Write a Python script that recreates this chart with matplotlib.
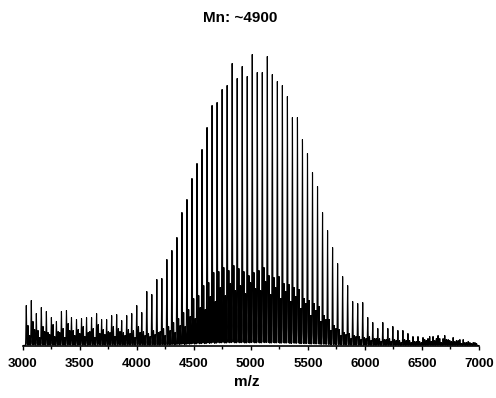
"""MALDI spectrum of a PEG sample, Mn ~4900."""
import matplotlib
matplotlib.use("Agg")
import matplotlib.pyplot as plt
import numpy as np

plt.rcParams["font.family"] = ["Liberation Sans", "DejaVu Sans"]

# repeat unit and first peak of the main (Na+) series, in m/z
REPEAT = 44.0
MAIN_FIRST = 3033.0
OFFSET_B = 15.0   # second distribution, between main peaks
OFFSET_C = 29.0   # third distribution

# peak heights, arbitrary units (one per repeat unit)
main_heights = [40, 45, 32, 38, 34, 28, 24, 34, 35, 28, 26, 27, 28, 28, 32, 26,
                26, 30, 31, 25, 30, 32, 40, 33, 54, 51, 66, 67, 86, 95, 108,
                133, 146, 167, 182, 196, 218, 240, 243, 256, 260, 282, 267, 279,
                269, 291, 273, 273, 289, 271, 264, 260, 249, 228, 228, 206, 192,
                173, 159, 133, 115, 98, 82, 69, 60, 44, 42, 43, 28, 23, 17, 23,
                17, 19, 15, 15, 12, 9, 9,
                8, 7, 9, 10, 7, 6, 8, 5, 6, 4, 3]
b_heights = [20, 24, 15, 19, 13, 21, 14, 17, 22, 15, 16, 19, 13, 17, 21, 16,
             14, 19, 17, 13, 16, 15, 19, 14, 12, 15, 13, 17, 19, 23, 27,
             33, 36, 47, 50, 60, 63, 73, 74, 78, 75, 80, 77, 74, 70, 73, 75,
             78, 70, 68, 69, 62, 61, 58, 56, 47, 45, 42, 39, 30, 26, 20, 16,
             13, 12, 10, 9, 8, 9, 7, 7, 6, 7, 6, 5, 6, 5, 4, 4,
             6, 9, 5, 7, 10, 5, 4, 6, 3, 3, 3]
c_heights = [10, 16, 8, 14, 11, 9, 13, 8, 15, 10, 12, 9, 14, 8, 12, 11,
             13, 9, 14, 10, 12, 8, 13, 10, 9, 11, 14, 10, 15, 13, 20,
             19, 29, 27, 38, 36, 49, 44, 58, 50, 62, 55, 60, 52, 63, 57, 55,
             64, 51, 58, 47, 54, 44, 49, 37, 42, 30, 35, 24, 26, 15, 17, 10,
             11, 7, 9, 6, 7, 5, 7, 4, 6, 4, 5, 3, 5, 3, 4, 3,
             5, 4, 7, 3, 6, 4, 5, 2, 3, 2, 2]
BASELINE = 0.5
PEAK_SIGMA = 2.5  # peak width in m/z units

peak_mz = MAIN_FIRST + REPEAT * np.arange(len(main_heights))

mz = np.arange(3000, 7000.25, 0.25)
signal = np.full_like(mz, BASELINE)
for offset, heights in ((0.0, main_heights), (OFFSET_B, b_heights), (OFFSET_C, c_heights)):
    for m, h in zip(peak_mz + offset, heights):
        signal += h * np.exp(-0.5 * ((mz - m) / PEAK_SIGMA) ** 2)

fig = plt.figure(figsize=(4.96, 3.98), dpi=100)
ax = fig.add_axes([22.5 / 496, 52 / 398, 456.5 / 496, 306 / 398])
ax.plot(mz, signal, color="black", lw=0.8)

ax.set_xlim(3000, 7000)
ax.set_ylim(0, 306)
ax.set_xticks(np.arange(3000, 7001, 500))
ax.set_xticks(np.arange(3000, 7001, 250), minor=True)
ax.set_yticks([])
for s in ("left", "right", "top"):
    ax.spines[s].set_visible(False)
ax.spines["bottom"].set_linewidth(1.2)
ax.tick_params(axis="x", which="major", direction="out", length=3, width=1,
               pad=5.5, labelsize=9.5)
ax.tick_params(axis="x", which="minor", direction="out", length=2, width=1)
for lab in ax.get_xticklabels():
    lab.set_fontweight("bold")

fig.text(240.5 / 496, 1 - 18 / 398, "Mn: ~4900", ha="center", va="center",
         fontsize=11, fontweight="bold")
fig.text(247 / 496, 1 - 382 / 398, "m/z", ha="center", va="center",
         fontsize=11, fontweight="bold")

fig.savefig("out.png", dpi=100)
